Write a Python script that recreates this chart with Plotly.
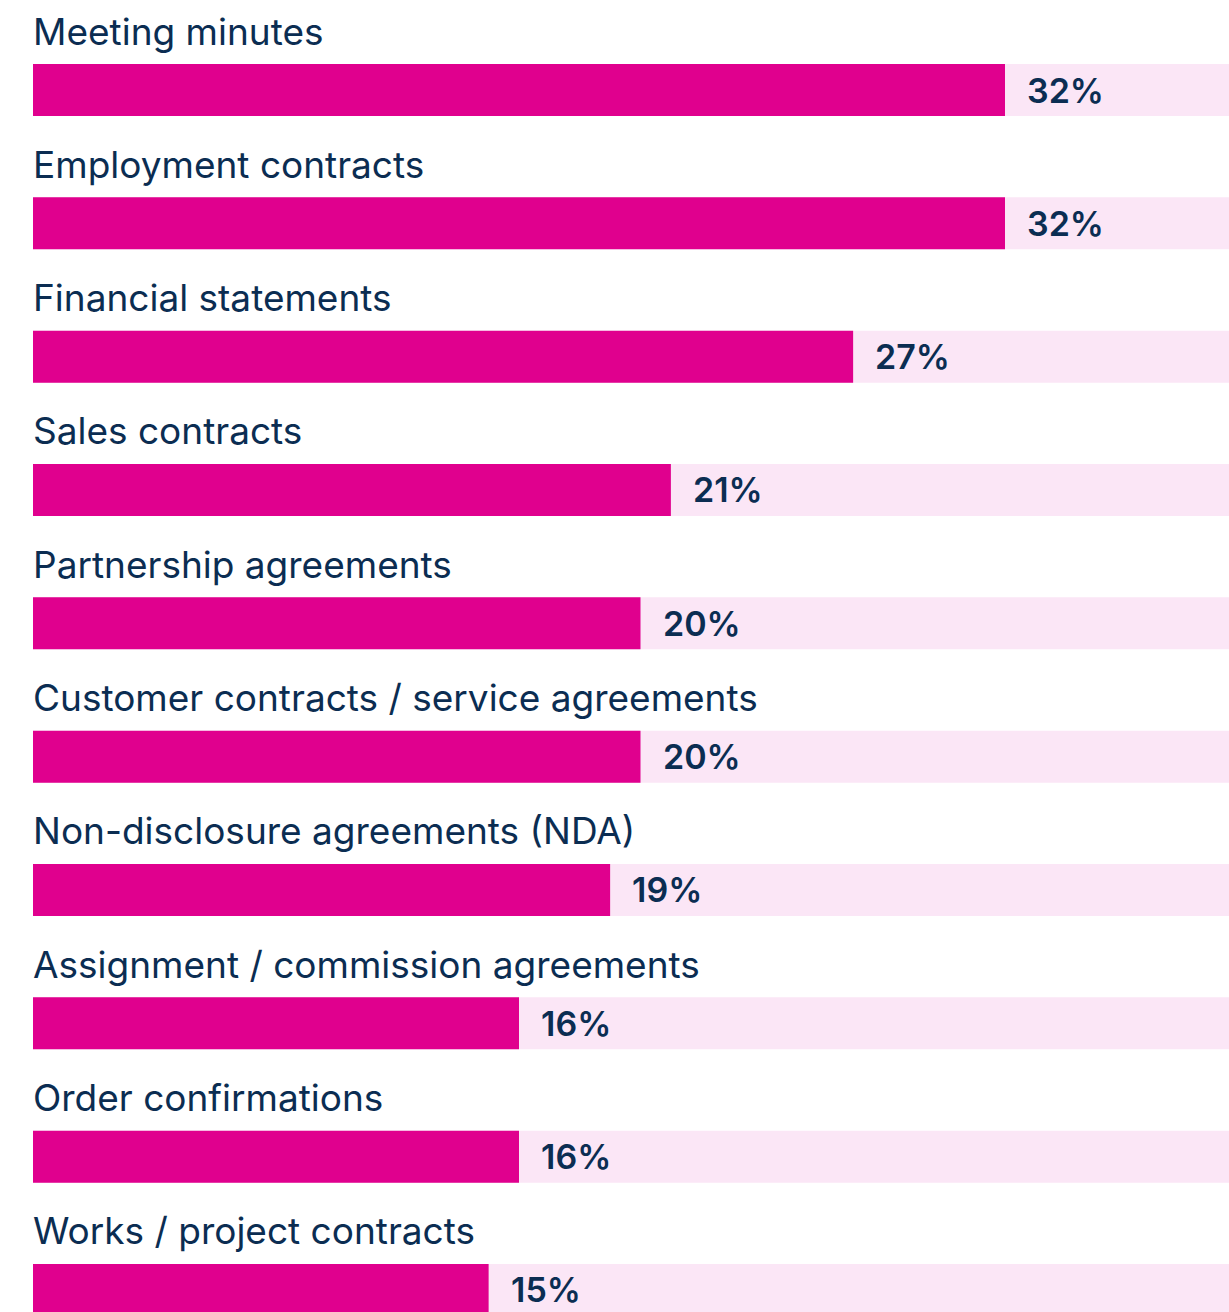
import plotly.graph_objects as go

# Data
categories = [
    'Meeting minutes',
    'Employment contracts',
    'Financial statements',
    'Sales contracts',
    'Partnership agreements',
    'Customer contracts / service agreements',
    'Non-disclosure agreements (NDA)',
    'Assignment / commission agreements',
    'Order confirmations',
    'Works / project contracts',
]
values = [32, 32, 27, 21, 20, 20, 19, 16, 16, 15]
track_max = 40

BAR_COLOR = '#E0008E'
TRACK_COLOR = '#FBE6F6'
TEXT_COLOR = '#0B2D52'
FONT = 'Inter, Roboto, sans-serif'

W, H = 1229, 1312
X0 = 33          # pixel where 0% sits
ROW0 = 90        # pixel centre of first bar
ROW_STEP = 133.33
px_per_unit = (1005 - 33) / 32

idx = list(range(len(categories)))

fig = go.Figure()

# background track
fig.add_trace(go.Bar(
    x=[track_max] * len(idx), y=idx, orientation='h',
    marker=dict(color=TRACK_COLOR, line=dict(width=0)),
    width=0.39, hoverinfo='skip', showlegend=False,
))

# actual values
fig.add_trace(go.Bar(
    x=values, y=idx, orientation='h',
    marker=dict(color=BAR_COLOR, line=dict(width=0), cornerradius=4),
    width=0.39, showlegend=False,
    hovertemplate='%{customdata}: %{x}%<extra></extra>',
    customdata=categories,
))

annotations = []
for i, (cat, val) in enumerate(zip(categories, values)):
    annotations.append(dict(
        x=0, y=i, xref='x', yref='y', text=cat, showarrow=False,
        xanchor='left', yanchor='middle', yshift=59, xshift=-2,
        font=dict(family=FONT, size=37, color=TEXT_COLOR),
    ))
    annotations.append(dict(
        x=val, y=i, xref='x', yref='y', text=f'{val}%', showarrow=False,
        xanchor='left', yanchor='middle', xshift=20,
        font=dict(family=FONT, size=34, color=TEXT_COLOR, weight=600),
    ))

fig.update_layout(
    width=W, height=H,
    margin=dict(l=0, r=0, t=0, b=0),
    paper_bgcolor='white', plot_bgcolor='white',
    barmode='overlay',
    annotations=annotations,
    xaxis=dict(range=[-X0 / px_per_unit, (W - X0) / px_per_unit],
               visible=False, fixedrange=True),
    yaxis=dict(range=[(H - ROW0) / ROW_STEP, -ROW0 / ROW_STEP],
               visible=False, fixedrange=True),
)

# drop the default page margin so the figure fills the window
fig.write_html('out.html',
               config={'displayModeBar': False},
               post_script="document.body.style.margin='0';"
                           "document.body.style.overflow='hidden';")
